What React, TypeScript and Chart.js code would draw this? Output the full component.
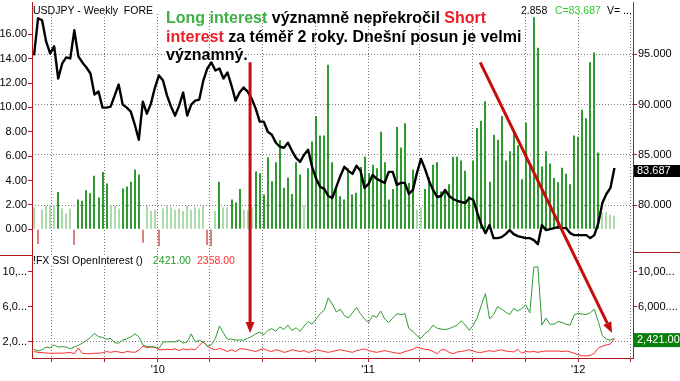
import React, { useEffect, useRef } from "react";
import { Chart, registerables } from "chart.js";

Chart.register(...registerables);

const FONT = '"Liberation Sans", Arial, Helvetica, sans-serif';
const AXIS_RED = "#b01c1c";
const GRID = "#7a7a7a";

// ---------- data (weekly, first week = 31 May 2009) ----------
const ssiRatio = [
  1.8, -1.2, 1.6, 1.9, 1.95, 1.9, 3.05, 1.7, 1.3, 1.7,
  -1.3, 2.45, 2.35, 3.2, 2.95, 4.4, 2.6, 4.7, 3.75, 1.95,
  1.9, 1.7, 3.35, 3.5, 3.9, 4.9, 4.5, -1.1, 1.9, 1.5,
  1.6, -1.4, 1.7, 1.95, 1.8, 1.6, 1.7, 1.5, 1.9, 1.6,
  1.8, 1.7, 1.9, -1.3, -1.4, 1.5, 3.9, 1.8, 1.8, 2.45,
  2.2, 3.3, 1.6, 1.6, 1.8, 4.75, 4.6, 2.85, 5.9, 3.95,
  5.5, 7.3, 3.4, 4.25, 2.9, 5.5, 4.5, 1.9, 5.0, 7.2,
  9.3, 7.7, 7.7, 13.5, 5.5, 3.4, 2.7, 2.45, 5.0, 2.85,
  3.0, 5.1, 5.95, 4.6, 5.3, 5.0, 8.0, 5.5, 2.45, 3.3,
  8.4, 6.7, 8.7, 3.8, 4.9, 1.6, 1.8, 3.3, 4.25, 5.3,
  5.5, 3.1, 3.3, 3.7, 5.95, 5.95, 5.65, 4.8, 2.7, 5.65,
  8.3, 8.9, 10.5, 3.9, 7.75, 7.35, 9.3, 5.65, 6.4, 7.9,
  6.9, 4.1, 8.75, 5.3, 17.4, 14.9, 5.15, 6.4, 5.4, 4.2,
  3.85, 5.05, 4.55, 3.7, 7.7, 7.6, 9.8, 9.1, 13.7, 14.5,
  6.3, 1.4, 1.4, 1.2, 1.1,
];

const usdJpyClose = [
  94.9, 98.6, 98.4, 96.3, 95.1, 95.8, 92.6, 94.1, 94.7, 94.6,
  97.4, 94.8, 94.2, 93.7, 93.1, 91.0, 91.3, 89.7, 89.7, 89.8,
  90.9, 92.0, 90.0, 89.7, 89.3, 88.0, 86.5, 90.3, 89.1, 90.1,
  91.7, 92.9, 92.4, 90.9, 89.8, 88.9, 89.9, 91.2, 88.9, 90.0,
  90.4, 90.5, 92.4, 93.6, 94.2, 93.4, 93.6, 92.6, 93.2, 91.9,
  90.4, 91.2, 91.7, 91.3, 90.6, 89.6, 88.3, 88.3, 87.3, 87.0,
  86.2, 85.8, 85.7, 86.2, 85.4, 84.7, 84.3, 85.0, 85.5, 83.8,
  82.6, 81.8, 81.6, 80.9, 80.7, 81.8, 82.9, 83.8, 83.4, 83.1,
  83.9, 83.4, 81.7, 82.1, 83.0, 82.6, 82.4, 82.2, 83.3, 83.3,
  82.0, 82.2, 82.2, 81.1, 81.5, 83.2, 84.6, 83.6, 82.4, 81.5,
  80.8, 80.9, 81.5, 80.9, 80.6, 80.4, 80.3, 80.2, 80.7, 80.5,
  79.2, 78.0, 77.2, 78.0, 76.7, 76.7, 76.8, 77.1, 77.5, 77.1,
  76.9, 76.8, 76.7, 76.7, 76.5, 76.1, 78.0, 77.5, 77.6, 77.7,
  77.8, 77.7, 77.7, 77.2, 77.0, 77.0, 77.0, 77.0, 76.7, 77.0,
  78.2, 80.2, 81.1, 81.7, 83.687,
];

const longOpenInterest = [
  1160, 950, 1100, 1400, 1300, 1650, 1400, 1450, 1400, 1200,
  1400, 1600, 1850, 2150, 2500, 2950, 2600, 2500, 2300, 2400,
  1900, 1850, 2200, 2350, 2550, 2900, 2600, 1650, 1450, 1450,
  1400, 1250, 1950, 2000, 2000, 2000, 2200, 1850, 2000, 2900,
  2000, 2150, 2000, 1500, 1650, 2400, 3800, 3000, 2300, 2300,
  2200, 2200, 2200, 2400, 2600, 2900, 3100, 2800, 3300, 3500,
  3200, 3700, 3400, 3900, 3300, 3600, 3200, 3800, 4300, 4000,
  4600, 5200, 5600, 7000, 6300, 5400, 5700, 5000, 4700, 5300,
  5900, 5200, 4600, 4200, 5000, 4800, 5500, 4600, 4200, 4700,
  5200, 5100, 5200, 3500, 3200, 2700, 2400, 2950, 3300, 3900,
  3550, 3450, 3400, 3500, 3700, 3900, 4400, 3900, 3300, 3900,
  4800, 6200, 7500, 4600, 5100, 6000, 5700, 5400, 5100, 5800,
  5500, 5800, 6200, 5300, 10500, 10550, 3900, 4700, 4000, 4000,
  4300, 4200, 4000, 3900, 5050, 5250, 5150, 5100, 5300, 5700,
  4300, 2700, 2300, 2200, 2421,
];

const shortOpenInterest = [
  900, 800, 770, 720, 700, 700, 720, 700, 750, 800,
  650, 1300, 700, 650, 650, 700, 700, 750, 900, 800,
  900, 850, 750, 900, 850, 800, 1050, 1500, 1350, 1400,
  1400, 1100, 1100, 1150, 1100, 1200, 1000, 1200, 1100, 1200,
  1100, 1600, 2000, 1500, 1250, 1100, 1250, 1100, 900, 1100,
  900, 1200, 1200, 1100, 1000, 900, 1100, 1200, 1000, 900,
  1100, 1000, 800, 900, 1100, 1000, 900, 1000, 800, 900,
  1100, 1000, 900, 800, 900, 1000, 1100, 1000, 900, 800,
  1000, 1100, 1200, 1000, 900, 800, 900, 1000, 900, 800,
  700, 700, 900, 1000, 1150, 1400, 1250, 1150, 1100, 900,
  650, 1100, 1100, 800, 650, 850, 900, 1000, 1100, 950,
  800, 800, 900, 1000, 900, 1000, 1100, 950, 900, 850,
  1150, 700, 900, 850, 900, 800, 900, 950, 950, 950,
  950, 900, 950, 850, 700, 550, 400, 400, 450, 700,
  1300, 1500, 1650, 1750, 2358,
];

// ---------- axis structure ----------
const START_UTC = Date.UTC(2009, 4, 31);
const WEEK_MS = 7 * 86400000;
const quarterStarts: Array<[number, number]> = [
  [2009, 6], [2009, 9], [2010, 0], [2010, 3], [2010, 6], [2010, 9],
  [2011, 0], [2011, 3], [2011, 6], [2011, 9], [2012, 0], [2012, 3],
];
const quarterTicks = quarterStarts.map(([y, m]) => (Date.UTC(y, m, 1) - START_UTC) / WEEK_MS);
const quarterLabels = quarterStarts.map(([y, m]) => (m === 0 ? "'" + String(y).slice(2) : ""));

const ssiTickValues = [0, 2, 4, 6, 8, 10, 12, 14, 16];
const priceTickValues = [80, 85, 90, 95];
const oiTickValues = [2000, 4000, 6000, 8000, 10000];
const oiGridValues = [2000, 4000, 8000];
const oiLeftLabels: Record<number, string> = { 10000: "10,...", 6000: "6,0...", 2000: "2,0..." };
const oiRightLabels: Record<number, string> = { 10000: "10,00...", 6000: "6,000...." };

const headerLeft = "USDJPY - Weekly  FORE";
const headerRatio = "2.858";
const headerVolume = "V= ...";
const oiHeader = "!FX SSI OpenInterest ()";

// arrows: start on SSI scale, end on open-interest scale (week index, value)
const arrows = [
  { x1: 53.6, y1: 13.7, x2: 53.6, y2: 3000 },
  { x1: 110.7, y1: 13.7, x2: 143.4, y2: 3000 },
];

function fmtThousands(v: number) {
  const s = v.toFixed(2);
  const [int, dec] = s.split(".");
  return int.replace(/\B(?=(\d{3})+(?!\d))/g, ",") + "." + dec;
}

function drawArrow(ctx: CanvasRenderingContext2D, x1: number, y1: number, x2: number, y2: number) {
  const ang = Math.atan2(y2 - y1, x2 - x1);
  const head = 11;
  const hw = 4.5;
  const bx = x2 - head * Math.cos(ang);
  const by = y2 - head * Math.sin(ang);
  ctx.save();
  ctx.strokeStyle = "#c40e0e";
  ctx.fillStyle = "#c40e0e";
  ctx.lineWidth = 3;
  ctx.beginPath();
  ctx.moveTo(x1, y1);
  ctx.lineTo(bx, by);
  ctx.stroke();
  ctx.beginPath();
  ctx.moveTo(x2, y2);
  ctx.lineTo(bx + hw * Math.sin(ang), by - hw * Math.cos(ang));
  ctx.lineTo(bx - hw * Math.sin(ang), by + hw * Math.cos(ang));
  ctx.closePath();
  ctx.fill();
  ctx.restore();
}

const overlayPlugin = {
  id: "overlay",
  beforeDatasetsDraw(chart: any) {
    const { ctx, chartArea } = chart;
    ctx.save();
    ctx.fillStyle = "#fff";
    ctx.fillRect(chartArea.left + 1, chartArea.top, chartArea.right - chartArea.left - 3, 12);
    const b = chart.scales.yOI.top;
    ctx.fillRect(chartArea.left + 1, b + 1, 222, 11);
    ctx.restore();
  },
  beforeDatasetDraw(chart: any, args: any) {
    // snap bar centres to whole pixels so the thin bars render crisply
    if (args.meta.type === "bar") {
      for (const el of args.meta.data) el.x = Math.round(el.x);
    }
  },
  afterDatasetsDraw(chart: any) {
    const { ctx, scales } = chart;
    for (const a of arrows) {
      drawArrow(
        ctx,
        scales.x.getPixelForValue(a.x1),
        scales.ySSI.getPixelForValue(a.y1),
        scales.x.getPixelForValue(a.x2),
        scales.yOI.getPixelForValue(a.y2)
      );
    }
  },
  afterDraw(chart: any) {
    const { ctx, scales } = chart;
    const lastPrice = usdJpyClose[usdJpyClose.length - 1];
    const lastLong = longOpenInterest[longOpenInterest.length - 1];
    const lastShort = shortOpenInterest[shortOpenInterest.length - 1];
    ctx.save();
    ctx.textAlign = "left";
    ctx.textBaseline = "alphabetic";
    ctx.font = `10.5px ${FONT}`;
    ctx.fillStyle = "#000";
    ctx.fillText(headerLeft, 33, 14);
    ctx.fillText(headerRatio, 521, 14);
    ctx.fillStyle = "#33cc33";
    ctx.fillText("C=" + lastPrice.toFixed(3), 555, 14);
    ctx.fillStyle = "#000";
    ctx.fillText(headerVolume, 607, 14);

    const yb = scales.yOI.top;
    ctx.fillStyle = "#000";
    ctx.fillText(oiHeader, 33, yb + 9.5);
    ctx.fillStyle = "#1f9a1f";
    ctx.fillText(lastLong.toFixed(2), 153, yb + 9.5);
    ctx.fillStyle = "#ff3030";
    ctx.fillText(lastShort.toFixed(2), 197, yb + 9.5);

    // panel separators in axis columns
    ctx.strokeStyle = AXIS_RED;
    ctx.lineWidth = 1;
    ctx.beginPath();
    ctx.moveTo(0, yb + 1.5);
    ctx.lineTo(32, yb + 1.5);
    ctx.moveTo(633, yb - 1.5);
    ctx.lineTo(680, yb - 1.5);
    ctx.stroke();

    // last value boxes
    ctx.font = `11px ${FONT}`;
    ctx.textBaseline = "middle";
    const py = scales.yPrice.getPixelForValue(lastPrice);
    ctx.fillStyle = "#000";
    ctx.fillRect(634, py - 3, 46, 12);
    ctx.fillStyle = "#fff";
    ctx.fillText(lastPrice.toFixed(3), 637, py + 3);

    const oy = scales.yOI.getPixelForValue(lastLong);
    ctx.fillStyle = "#0a800a";
    ctx.fillRect(634, oy - 5, 46, 14);
    ctx.fillStyle = "#fff";
    ctx.fillText(fmtThousands(lastLong), 637, oy + 2);
    ctx.restore();
  },
};

export default function App() {
  const ref = useRef<HTMLCanvasElement>(null);

  useEffect(() => {
    const canvas = ref.current;
    if (!canvas) return;
    const barColors = ssiRatio.map((v) => (v < 0 ? "#d48282" : v < 2 ? "#acdaac" : "#2f9a2f"));
    const tickFont = { family: FONT, size: 11 };

    const chart = new Chart(canvas, {
      type: "line",
      data: {
        datasets: [
          {
            type: "line",
            label: "USDJPY",
            data: usdJpyClose.map((v, i) => ({ x: i, y: v })),
            xAxisID: "x",
            yAxisID: "yPrice",
            borderColor: "#000",
            borderWidth: 2.4,
            pointRadius: 0,
            tension: 0,
            borderJoinStyle: "round",
            order: 0,
          },
          {
            type: "line",
            label: "Long",
            data: longOpenInterest.map((v, i) => ({ x: i, y: v })),
            xAxisID: "x",
            yAxisID: "yOI",
            borderColor: "#2e9a2e",
            borderWidth: 1,
            pointRadius: 0,
            tension: 0,
            order: 1,
          },
          {
            type: "line",
            label: "Short",
            data: shortOpenInterest.map((v, i) => ({ x: i, y: v })),
            xAxisID: "x",
            yAxisID: "yOI",
            borderColor: "#ff2a2a",
            borderWidth: 1,
            pointRadius: 0,
            tension: 0,
            order: 2,
          },
          {
            type: "bar",
            label: "SSI",
            data: ssiRatio.map((v, i) => ({ x: i, y: v })),
            xAxisID: "x",
            yAxisID: "ySSI",
            backgroundColor: barColors,
            borderWidth: 0,
            barThickness: 2,
            inflateAmount: 0,
            order: 3,
          } as any,
        ],
      },
      options: {
        responsive: false,
        animation: false,
        devicePixelRatio: 1,
        events: [],
        layout: { padding: { top: 2, left: 0, right: 0, bottom: 0 }, autoPadding: false },
        plugins: {
          legend: { display: false },
          tooltip: { enabled: false },
          title: { display: false },
        },
        scales: {
          x: {
            type: "linear",
            position: "bottom",
            min: -0.5,
            max: 148.6,
            offset: false,
            afterBuildTicks: (s: any) => {
              s.ticks = quarterTicks.map((v) => ({ value: v }));
            },
            afterFit: (s: any) => {
              s.height = 23;
              s.paddingLeft = 0;
              s.paddingRight = 0;
            },
            grid: {
              display: true,
              drawOnChartArea: true,
              offset: false,
              color: GRID,
              lineWidth: 1,
              drawTicks: true,
              tickLength: 4,
              tickColor: AXIS_RED,
            },
            border: { display: true, color: AXIS_RED, width: 1, dash: [1, 2] },
            ticks: {
              autoSkip: false,
              maxRotation: 0,
              minRotation: 0,
              padding: 1,
              color: "#000",
              font: tickFont,
              callback: (_v: any, i: number) => quarterLabels[i] ?? "",
            },
          },
          ySSI: {
            type: "linear",
            position: "left",
            stack: "left",
            stackWeight: 252,
            weight: 2,
            min: -2.03,
            max: 18.65,
            afterBuildTicks: (s: any) => {
              s.ticks = ssiTickValues.map((v) => ({ value: v }));
            },
            afterFit: (s: any) => {
              s.width = 32;
              s.paddingTop = 0;
              s.paddingBottom = 0;
            },
            grid: { drawOnChartArea: false, drawTicks: true, tickLength: 4, tickColor: AXIS_RED, color: AXIS_RED },
            border: { display: true, color: AXIS_RED, width: 1 },
            ticks: { padding: 1, color: "#000", font: tickFont, callback: (v: any) => Number(v).toFixed(2) },
          },
          yOI: {
            type: "linear",
            position: "left",
            stack: "left",
            stackWeight: 104,
            weight: 1,
            min: 160,
            max: 11990,
            afterBuildTicks: (s: any) => {
              s.ticks = oiTickValues.map((v) => ({ value: v }));
            },
            afterFit: (s: any) => {
              s.width = 32;
              s.paddingTop = 0;
              s.paddingBottom = 0;
            },
            grid: {
              drawOnChartArea: true,
              color: (c: any) => (c.tick && oiGridValues.includes(c.tick.value) ? GRID : "rgba(0,0,0,0)"),
              drawTicks: true,
              tickLength: 4,
              tickColor: AXIS_RED,
            },
            border: { display: true, color: AXIS_RED, width: 1, dash: [1, 2] },
            ticks: { padding: 1, color: "#000", font: tickFont, callback: (v: any) => oiLeftLabels[Number(v)] ?? "" },
          },
          yPrice: {
            type: "linear",
            position: "right",
            stack: "right",
            stackWeight: 252,
            weight: 1,
            min: 75.12,
            max: 100.22,
            afterBuildTicks: (s: any) => {
              s.ticks = priceTickValues.map((v) => ({ value: v }));
            },
            afterFit: (s: any) => {
              s.width = 47;
              s.paddingTop = 0;
              s.paddingBottom = 0;
            },
            grid: { drawOnChartArea: true, color: GRID, drawTicks: true, tickLength: 4, tickColor: AXIS_RED },
            border: { display: true, color: AXIS_RED, width: 1, dash: [1, 2] },
            ticks: { padding: 1, color: "#000", font: tickFont, callback: (v: any) => Number(v).toFixed(3) },
          },
          yOIR: {
            type: "linear",
            position: "right",
            stack: "right",
            stackWeight: 104,
            weight: 2,
            min: 160,
            max: 11990,
            afterBuildTicks: (s: any) => {
              s.ticks = oiTickValues.map((v) => ({ value: v }));
            },
            afterFit: (s: any) => {
              s.width = 47;
              s.paddingTop = 0;
              s.paddingBottom = 0;
            },
            grid: { drawOnChartArea: false, drawTicks: true, tickLength: 4, tickColor: AXIS_RED, color: AXIS_RED },
            border: { display: true, color: AXIS_RED, width: 1 },
            ticks: { padding: 1, color: "#000", font: tickFont, callback: (v: any) => oiRightLabels[Number(v)] ?? "" },
          },
        } as any,
      },
      plugins: [overlayPlugin],
    });

    return () => chart.destroy();
  }, []);

  const green = "#3cb043";
  const red = "#ed1c24";

  return (
    <div
      style={{
        position: "absolute",
        left: 0,
        top: 0,
        width: 680,
        height: 381,
        background: "#fff",
        overflow: "hidden",
      }}
    >
      <canvas ref={ref} width={680} height={381} style={{ display: "block", width: 680, height: 381 }} />
      <div
        style={{
          position: "absolute",
          left: 166,
          top: 9,
          font: `bold 16px ${FONT}`,
          lineHeight: "18.5px",
          color: "#000",
          whiteSpace: "nowrap",
        }}
      >
        <span style={{ color: green }}>Long interest</span> významně nepřekročil{" "}
        <span style={{ color: red }}>Short</span>
        <br />
        <span style={{ color: red }}>interest</span> za téměř 2 roky. Dnešní posun je velmi
        <br />
        významný.
      </div>
    </div>
  );
}
